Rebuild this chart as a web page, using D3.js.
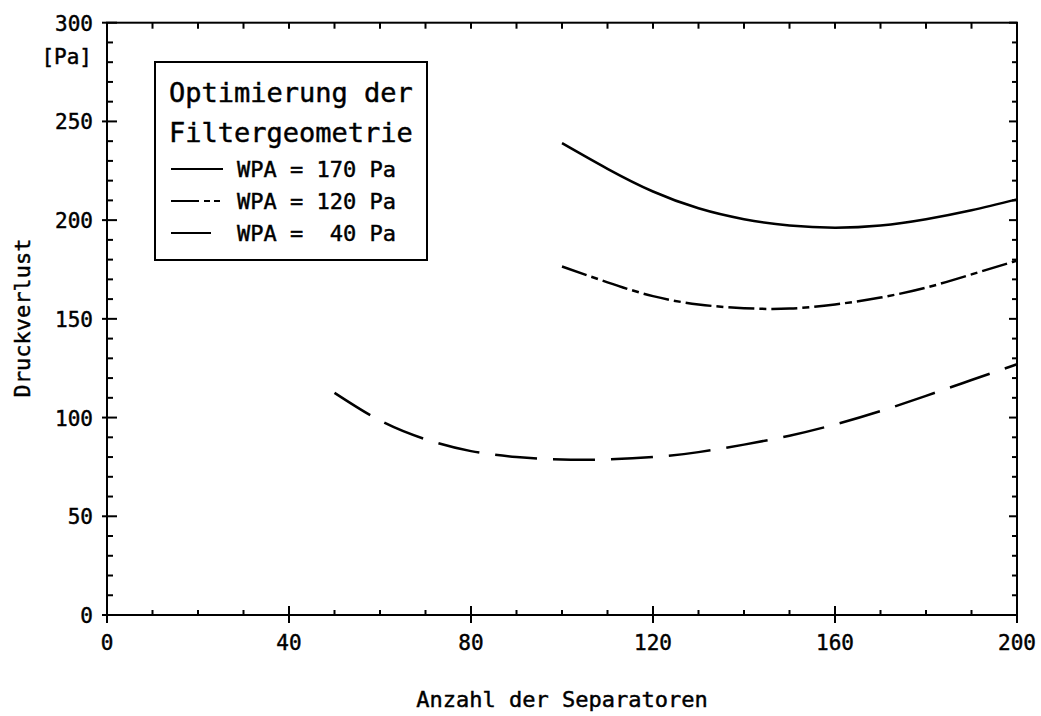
<!DOCTYPE html>
<html>
<head>
<meta charset="utf-8">
<script src="https://cdn.jsdelivr.net/npm/d3@7"></script>
<style>
  body { margin: 0; background: #fff; }
  text { font-family: "DejaVu Sans Mono", monospace; fill: #000; stroke: #000; stroke-width: 0.45px; white-space: pre; }
</style>
</head>
<body>
<svg id="chart"></svg>
<script>
// x values (Anzahl der Separatoren) for each curve
const xs170 = [100, 110, 120, 130, 140, 150, 160, 170, 180, 190, 200];
const xs120 = [100, 110, 120, 130, 140, 150, 160, 170, 180, 190, 200];
const xs40 = [50, 60, 70, 80, 90, 100, 110, 120, 130, 140, 150, 160, 170, 180, 190, 200];

// Druckverlust [Pa]
const wpa170 = [239, 226, 214.5, 206, 200.5, 197.3, 196.2, 197.3, 200.5, 205, 210.5];
const wpa120 = [176.5, 168.5, 161.5, 157.3, 155.4, 155.2, 157.3, 160.8, 165.8, 172.5, 179.5];
const wpa40 = [112.5, 98.5, 89, 83, 80, 78.7, 78.8, 80, 82.5, 86.3, 90.8, 96.5, 103.3, 111, 119, 127];

// legend entries and tick labels
const legendLabels = ["WPA = 170 Pa", "WPA = 120 Pa", "WPA =  40 Pa"];
const xTicks = [0, 40, 80, 120, 160, 200];
const yTicks = [0, 50, 100, 150, 200, 250, 300];

// width and height of the page
const width = 1041;
const height = 716;

const svg = d3.select("#chart")
    .attr("width", width)
    .attr("height", height);

// scales for the plot area
const x = d3.scaleLinear().domain([0, 200]).range([107, 1017]);
const y = d3.scaleLinear().domain([0, 300]).range([615, 22.7]);

// minor ticks every 10 units
const xMinor = d3.range(0, 201, 10);
const yMinor = d3.range(0, 301, 10);

const axes = svg.append("g")
    .attr("stroke", "#000")
    .attr("stroke-width", 2);

// frame around the plot
axes.append("rect")
    .attr("x", x(0))
    .attr("y", y(300))
    .attr("width", x(200) - x(0))
    .attr("height", y(0) - y(300))
    .attr("fill", "none");

// bottom ticks (major ones cross the axis)
axes.selectAll(".tb")
    .data(xMinor)
    .enter()
    .append("line")
    .attr("x1", (d) => x(d))
    .attr("x2", (d) => x(d))
    .attr("y1", (d) => d % 40 === 0 ? y(0) + 8 : y(0))
    .attr("y2", (d) => d % 40 === 0 ? y(0) - 9 : y(0) - 5);

// top ticks point down into the plot
axes.selectAll(".tt")
    .data(xMinor)
    .enter()
    .append("line")
    .attr("x1", (d) => x(d))
    .attr("x2", (d) => x(d))
    .attr("y1", y(300))
    .attr("y2", y(300) + 6);

// left ticks
axes.selectAll(".tl")
    .data(yMinor)
    .enter()
    .append("line")
    .attr("y1", (d) => y(d))
    .attr("y2", (d) => y(d))
    .attr("x1", (d) => d % 50 === 0 ? x(0) - 5 : x(0))
    .attr("x2", (d) => d % 50 === 0 ? x(0) + 10 : x(0) + 6);

// right ticks point left into the plot
axes.selectAll(".tr")
    .data(yMinor)
    .enter()
    .append("line")
    .attr("y1", (d) => y(d))
    .attr("y2", (d) => y(d))
    .attr("x1", x(200))
    .attr("x2", (d) => d % 50 === 0 ? x(200) - 8 : x(200) - 5);

// tick labels
svg.selectAll(".xl")
    .data(xTicks)
    .enter()
    .append("text")
    .attr("x", (d) => x(d))
    .attr("y", 650)
    .attr("text-anchor", "middle")
    .style("font-size", "21px")
    .text((d) => d);

svg.selectAll(".yl")
    .data(yTicks)
    .enter()
    .append("text")
    .attr("x", 93)
    .attr("y", (d) => y(d) + 8)
    .attr("text-anchor", "end")
    .style("font-size", "21px")
    .text((d) => d);

// unit under the top label
svg.append("text")
    .attr("x", 92)
    .attr("y", 64)
    .attr("text-anchor", "end")
    .style("font-size", "21px")
    .text("[Pa]");

// axis titles
svg.append("text")
    .attr("x", 562)
    .attr("y", 707)
    .attr("text-anchor", "middle")
    .style("font-size", "22px")
    .text("Anzahl der Separatoren");

svg.append("text")
    .attr("transform", "translate(30,318) rotate(-90)")
    .attr("text-anchor", "middle")
    .style("font-size", "22px")
    .text("Druckverlust");

// line generator for the curves
const line = d3.line()
    .x((d) => x(d[0]))
    .y((d) => y(d[1]))
    .curve(d3.curveNatural);

const series = [
    {xs: xs170, ys: wpa170, dash: null},
    {xs: xs120, ys: wpa120, dash: "26,5,7,5"},
    {xs: xs40, ys: wpa40, dash: "42,16"}
];

svg.append("g")
    .selectAll("path")
    .data(series)
    .enter()
    .append("path")
    .attr("d", (s) => line(d3.zip(s.xs, s.ys)))
    .attr("fill", "none")
    .attr("stroke", "#000")
    .attr("stroke-width", 2.5)
    .attr("stroke-dasharray", (s) => s.dash);

// legend box
const legend = svg.append("g");

legend.append("rect")
    .attr("x", 155)
    .attr("y", 62)
    .attr("width", 272)
    .attr("height", 198)
    .attr("fill", "#fff")
    .attr("stroke", "#000")
    .attr("stroke-width", 2);

legend.append("text")
    .attr("x", 169)
    .attr("y", 102)
    .style("font-size", "27px")
    .text("Optimierung der");

legend.append("text")
    .attr("x", 169)
    .attr("y", 142)
    .style("font-size", "27px")
    .text("Filtergeometrie");

// legend samples are shorter for the dashed one
const sampleEnd = [223, 223, 211];

legend.selectAll(".ls")
    .data(series)
    .enter()
    .append("line")
    .attr("x1", 171)
    .attr("x2", (d, i) => sampleEnd[i])
    .attr("y1", (d, i) => 169 + i * 32)
    .attr("y2", (d, i) => 169 + i * 32)
    .attr("stroke", "#000")
    .attr("stroke-width", 2)
    .attr("stroke-dasharray", (d, i) => i === 1 ? "28,5,6,4,6,4" : null);

legend.selectAll(".lt")
    .data(legendLabels)
    .enter()
    .append("text")
    .attr("x", 237)
    .attr("y", (d, i) => 177 + i * 32)
    .style("font-size", "22px")
    .text((d) => d);
</script>
</body>
</html>
